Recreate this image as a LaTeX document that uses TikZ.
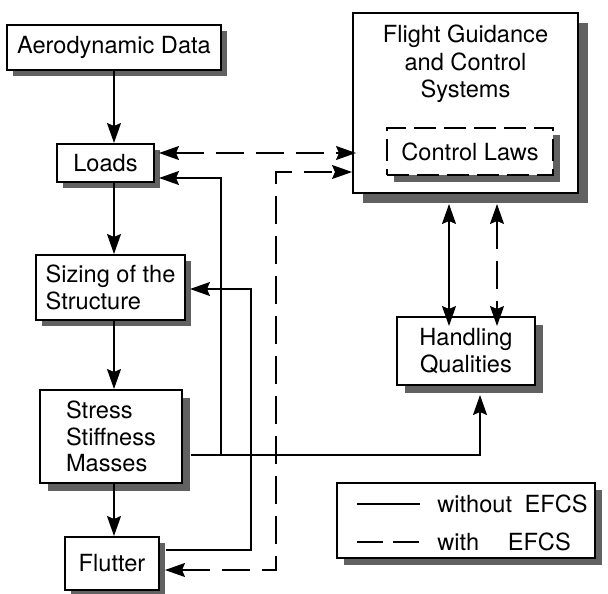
\documentclass[tikz,border=0pt]{standalone}
\usepackage{fontspec}
\setmainfont{TeX Gyre Heros}
\usetikzlibrary{arrows.meta,shadows}

\begin{document}
\begin{tikzpicture}[
			x=0.5pt,y=-0.5pt,
			font=\fontsize{11.8}{13.25}\selectfont,
			>={Stealth[length=10pt,width=7pt,inset=1.5pt]},
			boxshadow/.style={
				drop shadow={shadow xshift=#1,shadow yshift=-#1,fill=black!62,opacity=1}
			},
			block/.style={
				rectangle,draw,fill=white,line width=1pt,
				inner sep=2pt,boxshadow=#1
			},
			block/.default=3pt,
			arrow/.style={->,line width=0.7pt},
			dasharrow/.style={arrow,dash pattern=on 14pt off 6pt}
			]
			
			\useasboundingbox (0,0) rectangle (608,593);
			
			\node[block,minimum width=107pt,minimum height=22.5pt] (aero) at (114,47.5)
			{Aerodynamic Data};
			
			\node[block,minimum width=48.5pt,minimum height=19pt] (loads) at (105.5,163)
			{Loads};
			
			\node[block,align=left,minimum width=74.5pt,minimum height=32.5pt] (sizing) at (110.5,287.5)
			{Sizing of the\\Structure};
			
			\node[block=4pt,align=left,minimum width=71pt,minimum height=46.5pt] (stress) at (111,436.5)
			{Stress\\Stiffness\\Masses};
			
			\node[block,minimum width=47pt,minimum height=26.5pt] (flutter) at (112,563.5)
			{Flutter};
			
			\node[
			block=5pt,
			minimum width=112.5pt,minimum height=90pt,
			label={[anchor=north,align=center,yshift=-3pt,
				font=\fontsize{11.8}{13.75}\selectfont]north:Flight Guidance\\and Control\\Systems}
			] (fgcs) at (465.5,103) {};
			
			\node[block=3.5pt,dash pattern=on 11pt off 4pt,minimum width=83pt,minimum height=23.5pt] (laws) at (470,151.5)
			{Control Laws};
			
			\node[block=4pt,align=center,minimum width=69pt,minimum height=34pt] (hq) at (466,351)
			{Handling\\Qualities};
			
			\node[block=3.5pt,minimum width=129pt,minimum height=37.5pt] (legend) at (466,520.5) {};
			
			\draw[arrow] (aero.south) -- (aero.south |- loads.north);
			\draw[arrow] (loads.south -| aero.south) -- (aero.south |- sizing.north);
			\draw[arrow] (sizing.south -| aero.south) -- (aero.south |- stress.north);
			\draw[arrow] (stress.south -| aero.south) -- (aero.south |- flutter.north);
			
			\draw[dasharrow,<->] ([shift={(4,-10)}]loads.east) --
			([shift={(4,-10)}]loads.east -| fgcs.west);
			
			\draw[arrow] ([shift={(8,18.5)}]stress.east) -| ([shift={(14,9)}]hq.south);
			\draw[arrow] ([shift={(38,18.5)}]stress.east) |- ([shift={(4,15)}]loads.east);
			
			\draw[arrow] ([shift={(6,-13.5)}]flutter.east) -- ++(85,0) |- ([shift={(4,1.5)}]sizing.east);
			\draw[dasharrow,<->] ([shift={(5,6.5)}]flutter.east) -- ++(111,0) |- ([shift={(0,69)}]fgcs.west);
			
			\draw[arrow,<->] ([shift={(-16.5,10)}]fgcs.south) --
			([shift={(-16.5,10)}]fgcs.south |- hq.north);
			\draw[dasharrow,<->] ([shift={(31.5,10)}]fgcs.south) --
			([shift={(31.5,10)}]fgcs.south |- hq.north);
			
			\draw[line width=0.7pt] ([shift={(-109,-16.5)}]legend.center) -- ++(63,0);
			\draw[line width=0.7pt,dash pattern=on 13pt off 5pt] ([shift={(-109,21.5)}]legend.center) -- ++(63,0);
			
			\node[anchor=west,inner sep=0pt] (solidkey) at ([shift={(-29,-16.5)}]legend.center)
			{without\hspace{3pt} EFCS};
			\node[anchor=west,inner sep=0pt] (dashkey) at ([shift={(-29,21.5)}]legend.center)
			{with\hspace{11pt} EFCS};
			
		\end{tikzpicture}
\end{document}
